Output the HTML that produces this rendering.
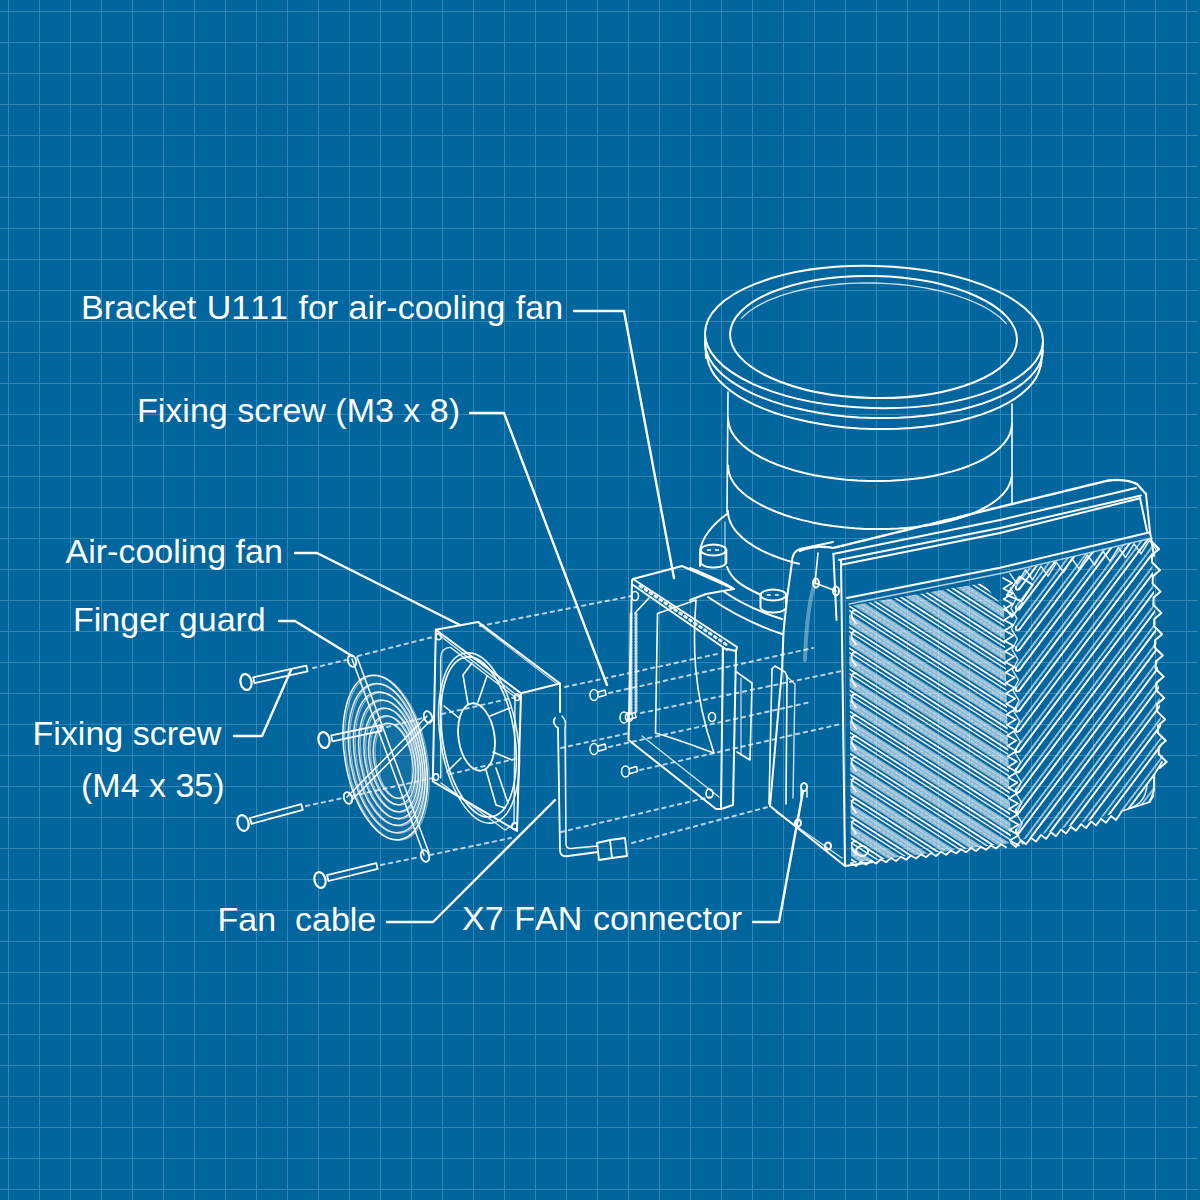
<!DOCTYPE html>
<html>
<head>
<meta charset="utf-8">
<style>
html,body{margin:0;padding:0;width:1200px;height:1200px;overflow:hidden;background:#01659e;}
#bg{position:absolute;left:0;top:0;width:1200px;height:1200px;background:#01659e;}
#gv{position:absolute;left:0;top:0;width:1200px;height:1200px;
background-image:linear-gradient(to right, #3186b3 0, #3186b3 1px, transparent 1px);
background-size:31px 31px;background-position:8px 0;}
#gh{position:absolute;left:0;top:0;width:1198px;height:1200px;
background-image:linear-gradient(to bottom, #3186b3 0, #3186b3 1px, transparent 1px);
background-size:31px 31px;background-position:0 11px;}
svg{position:absolute;left:0;top:0;}
.t{position:absolute;font-family:"Liberation Sans",sans-serif;font-size:34px;color:#fff;white-space:pre;line-height:34px;font-kerning:none;}
</style>
</head>
<body>
<div id="bg"></div><div id="gv"></div><div id="gh"></div>
<svg width="1200" height="1200" viewBox="0 0 1200 1200" fill="none" stroke="#fff" stroke-linecap="round" stroke-linejoin="round">
<!-- leaders -->
<g stroke-width="2.4">
<path d="M574 311 H624 L674 578"/>
<path d="M470 413 H504 L607 685"/>
<path d="M295 553 H317 L460 625"/>
<path d="M279 621 H295 L352 656"/>
<path d="M234 736 H262 L291 670"/>
<path d="M387 922 H433 L555 800"/>
<path d="M753 922 H779 L803 791"/>
</g>
<g id="drawing" stroke-width="2">
<g id="pump">
<ellipse cx="874" cy="337" rx="169" ry="71" transform="rotate(1.5 874 337)" />
<ellipse cx="873.5" cy="337" rx="143.5" ry="61" transform="rotate(1.2 873.5 337)" />
<path d="M741.4 318.4 L744.7 315.2 L748.4 312 L752.7 309 L757.3 306.1 L762.4 303.4 L767.9 300.7 L773.8 298.3 L780.1 295.9 L786.7 293.8 L793.6 291.8 L800.9 290 L808.4 288.4 L816.1 287 L824.1 285.8 L832.3 284.8 L840.6 284 L849 283.4 L857.5 283.1 L866.1 282.9 L874.7 283 L883.3 283.3 L891.9 283.8 L900.4 284.5 L908.8 285.4 L917 286.6 L925.2 287.9 L933.1 289.5 L940.8 291.2 L948.2 293.1 L955.4 295.2 L962.2 297.5 L968.7 299.9 L974.9 302.5 L980.7 305.2 L986.1 308 L991 311 L995.6 314.1 L999.7 317.3 L1003.3 320.6 L1006.4 323.9" stroke-width="1.3" opacity=".8"/>
<path d="M1042.9 350.4 L1042.3 356.1 L1040.6 361.6 L1037.8 367.1 L1034.1 372.4 L1029.4 377.6 L1023.7 382.6 L1017.1 387.4 L1009.6 391.9 L1001.2 396.1 L992.1 400 L982.3 403.6 L971.8 406.8 L960.7 409.7 L949 412.1 L936.9 414.2 L924.4 415.8 L911.6 417 L898.6 417.8 L885.4 418.1 L872.1 418 L858.9 417.4 L845.7 416.4 L832.7 415 L820 413.1 L807.6 410.8 L795.6 408.1 L784.1 405.1 L773.2 401.6 L762.8 397.9 L753.2 393.8 L744.3 389.4 L736.2 384.7 L729 379.8 L722.6 374.7 L717.2 369.5 L712.7 364 L709.3 358.5 L706.8 352.9 L705.4 347.2 L705.1 341.6" />
<path d="M1040.9 361.4 L1040.3 367 L1038.6 372.6 L1035.9 378.1 L1032.2 383.4 L1027.5 388.6 L1021.9 393.6 L1015.4 398.3 L1008 402.8 L999.7 407.1 L990.7 411 L981 414.6 L970.6 417.8 L959.6 420.7 L948.1 423.1 L936.1 425.2 L923.8 426.8 L911.1 428 L898.3 428.8 L885.2 429.1 L872.1 429 L859 428.4 L846 427.4 L833.2 426 L820.6 424.1 L808.4 421.8 L796.5 419.1 L785.2 416.1 L774.3 412.7 L764.1 408.9 L754.6 404.8 L745.8 400.4 L737.8 395.8 L730.7 390.9 L724.4 385.8 L719 380.5 L714.6 375.1 L711.2 369.6 L708.8 363.9 L707.4 358.3 L707.1 352.6" />
<path d="M705 336 L706 358" />
<path d="M1043 344 L1041 366" />
<path d="M728 392 L727 512" stroke-width="1.6"/>
<path d="M1012 404 L1012 503" stroke-width="1.6"/>
<path d="M1012 424.2 L1011.4 428.9 L1010 433.6 L1007.7 438.1 L1004.6 442.6 L1000.6 446.9 L995.9 451.1 L990.3 455.1 L984.1 458.9 L977.1 462.4 L969.4 465.7 L961.2 468.7 L952.3 471.4 L943 473.8 L933.2 475.9 L923.1 477.7 L912.6 479 L901.8 480.1 L890.9 480.8 L879.8 481.1 L868.6 481 L857.5 480.5 L846.4 479.7 L835.5 478.6 L824.8 477.1 L814.4 475.2 L804.3 473 L794.7 470.5 L785.5 467.6 L776.8 464.5 L768.7 461.1 L761.2 457.5 L754.3 453.7 L748.2 449.6 L742.9 445.4 L738.3 441 L734.6 436.5 L731.6 431.9 L729.6 427.2 L728.4 422.5 L728 417.8" />
<path d="M1011.8 476.5 L1010.8 481.1 L1009 485.5 L1006.4 489.9 L1002.9 494.2 L998.6 498.3 L993.6 502.2 L987.8 506 L981.3 509.5 L974.2 512.8 L966.4 515.8 L958 518.6 L949.1 521.1 L939.7 523.2 L929.9 525.1 L919.7 526.6 L909.2 527.7 L898.5 528.6 L887.7 529 L876.7 529.1 L865.7 528.9 L854.7 528.3 L843.8 527.3 L833 526 L822.5 524.4 L812.3 522.4 L802.4 520.1 L792.9 517.6 L783.9 514.7 L775.4 511.5 L767.5 508.2 L760.2 504.5 L753.5 500.7 L747.6 496.7 L742.4 492.5 L737.9 488.2 L734.3 483.8 L731.5 479.3 L729.5 474.7 L728.4 470.1 L728.1 465.5" />
<path d="M799 563.8 L795.8 563 L792.7 562.2 L789.6 561.3 L786.5 560.4 L783.6 559.4 L780.6 558.4 L777.8 557.4 L775 556.3 L772.3 555.2 L769.6 554.1 L767 553 L764.5 551.8 L762 550.6 L759.6 549.4 L757.3 548.1 L755.1 546.9 L753 545.6 L750.9 544.2 L748.9 542.9 L747 541.5 L745.2 540.1 L743.5 538.7 L741.8 537.3 L740.3 535.8 L738.8 534.3 L737.4 532.9 L736.1 531.4 L734.9 529.9 L733.8 528.3 L732.8 526.8 L731.9 525.2 L731.1 523.7 L730.4 522.1 L729.7 520.5 L729.2 519 L728.8 517.4 L728.4 515.8 L728.2 514.2 L728 512.6 L728 511" />
<path d="M727 514 C713 524 701 538 700 552 L700 566" />
<path d="M727 567 C732 580 742 586 759 594" />
<path d="M690 568 C705 574 725 583 734 589" />
<path d="M723 591 C740 603 760 612 782 619" />
<path d="M708 597 C730 612 755 625 782 634" />
<path d="M725 522 L725 564" stroke-width="1.3" opacity=".7"/>
<ellipse cx="713.5" cy="550" rx="12.8" ry="5.5" transform="rotate(0 713.5 550)" />
<path d="M700.7 550 L700.7 562 M726.3 562 L726.3 562.4 L726.1 562.9 L725.9 563.3 L725.7 563.7 L725.3 564.1 L724.9 564.5 L724.4 564.9 L723.9 565.2 L723.2 565.6 L722.6 565.9 L721.8 566.2 L721 566.4 L720.2 566.7 L719.3 566.9 L718.4 567.1 L717.5 567.2 L716.5 567.3 L715.5 567.4 L714.5 567.5 L713.5 567.5 L712.5 567.5 L711.5 567.4 L710.5 567.3 L709.5 567.2 L708.6 567.1 L707.7 566.9 L706.8 566.7 L706 566.4 L705.2 566.2 L704.4 565.9 L703.8 565.6 L703.1 565.2 L702.6 564.9 L702.1 564.5 L701.7 564.1 L701.3 563.7 L701.1 563.3 L700.9 562.9 L700.7 562.4 L700.7 562 M726.3 550 L726.3 562" />
<path d="M707.5 550 h3 M715.5 550 h3" stroke-width="1.4"/>
<ellipse cx="773.3" cy="595" rx="12.8" ry="5.5" transform="rotate(0 773.3 595)" />
<path d="M760.5 595 L760.5 607 M786.1 607 L786.1 607.4 L785.9 607.9 L785.7 608.3 L785.5 608.7 L785.1 609.1 L784.7 609.5 L784.2 609.9 L783.7 610.2 L783 610.6 L782.4 610.9 L781.6 611.2 L780.8 611.4 L780 611.7 L779.1 611.9 L778.2 612.1 L777.3 612.2 L776.3 612.3 L775.3 612.4 L774.3 612.5 L773.3 612.5 L772.3 612.5 L771.3 612.4 L770.3 612.3 L769.3 612.2 L768.4 612.1 L767.5 611.9 L766.6 611.7 L765.8 611.4 L765 611.2 L764.2 610.9 L763.6 610.6 L762.9 610.2 L762.4 609.9 L761.9 609.5 L761.5 609.1 L761.1 608.7 L760.9 608.3 L760.7 607.9 L760.5 607.4 L760.5 607 M786.1 595 L786.1 607" />
<path d="M767.3 595 h3 M775.3 595 h3" stroke-width="1.4"/>
</g>
<g id="housing">
<path d="M800 551 C812 546 822 546 833 548 L1000 507 L1106 481 C1118 479 1128 480 1137 484 L1146 494" stroke-dasharray="5 2" stroke-width="2.4"/>
<path d="M833 554 L1000 520 L1136 488" />
<path d="M839 560 L1000 528 L1141 495.5" />
<path d="M842.5 564.5 L1000 533 L1140 498.3" />
<path d="M1146 494 L1150 532 L1154 556" />
<path d="M1140 498 L1147 531" />
<path d="M833.5 555.5 L836.5 620" />
<path d="M841 560 L845 866" />
<path d="M847 598 L1000 567.7 L1150 532.3" />
<path d="M849 604 L1003 573 L1152 538" stroke-width="1.4" opacity=".7"/>
<path d="M833 542 L800 549 C794 551 792 556 792 562 L787 598 L783.5 632 L782 670 L770 806 L845 866" />
<path d="M818 553 L815 583 L836 591" stroke-width="1.6"/>
<path d="M816 580 C808 600 806 630 805 660" stroke-width="4" opacity=".35"/>
<ellipse cx="816" cy="583" rx="3" ry="4.5" transform="rotate(0 816 583)" />
<ellipse cx="836" cy="591" rx="3" ry="4.5" transform="rotate(0 836 591)" />
<path d="M772 669 L775 666 L785 672 L787 676 L786 804" stroke-width="1.6"/>
<path d="M772 669 L769 804" stroke-width="1.6"/>
<path d="M786 676 L795 684 L793 798" stroke-width="1.4" opacity=".8"/>
<ellipse cx="804" cy="787" rx="3" ry="4" transform="rotate(0 804 787)" />
<path d="M801 790 L801 797 M807 790 L807 797" stroke-width="1.4"/>
<path d="M776 812 L842 858" stroke-width="1.4" opacity=".8"/>
<ellipse cx="798" cy="823" rx="3" ry="3.5" transform="rotate(0 798 823)" />
<ellipse cx="828" cy="846" rx="3" ry="3.5" transform="rotate(0 828 846)" />
<path d="M845 866 L873 862" />
<ellipse cx="862" cy="851" rx="6" ry="5" transform="rotate(0 862 851)" />
</g>
<defs><clipPath id="cl"><path d="M849 606 L983 583 L1004 608 L1011 843 L851 863 Z"/></clipPath><clipPath id="cr"><path d="M1004 574 L1151 538 L1163 760 L1155 773 L1154 800 L1122 811 L1011 843 Z"/></clipPath></defs>
<g clip-path="url(#cl)">
<path d="M845 359.4 L1015 468.2 L1015 478.2 L845 369.4 Z" fill="#fff" fill-opacity=".55" stroke="none"/>
<path d="M845 362.4 L1015 471.2" stroke-width="1.6" opacity=".35" stroke-dasharray="3 2"/>
<path d="M845 366.4 L1015 475.2" stroke-width="1.6" opacity=".35" stroke-dasharray="2 3"/>
<path d="M845 351.4 L1015 460.2" stroke-width="1.8"/>
<path d="M845 355.9 L1015 464.7" stroke-width="1.5" opacity=".9"/>
<path d="M856 358.5 C850 357.6 850 364.6 856 371.5" stroke-width="1.8"/>
<path d="M845 380.4 L1015 489.2 L1015 499.2 L845 390.4 Z" fill="#fff" fill-opacity=".55" stroke="none"/>
<path d="M845 383.4 L1015 492.2" stroke-width="1.6" opacity=".35" stroke-dasharray="3 2"/>
<path d="M845 387.4 L1015 496.2" stroke-width="1.6" opacity=".35" stroke-dasharray="2 3"/>
<path d="M845 372.4 L1015 481.2" stroke-width="1.8"/>
<path d="M845 376.9 L1015 485.7" stroke-width="1.5" opacity=".9"/>
<path d="M856 379.5 C850 378.6 850 385.6 856 392.5" stroke-width="1.8"/>
<path d="M845 401.4 L1015 510.2 L1015 520.2 L845 411.4 Z" fill="#fff" fill-opacity=".55" stroke="none"/>
<path d="M845 404.4 L1015 513.2" stroke-width="1.6" opacity=".35" stroke-dasharray="3 2"/>
<path d="M845 408.4 L1015 517.2" stroke-width="1.6" opacity=".35" stroke-dasharray="2 3"/>
<path d="M845 393.4 L1015 502.2" stroke-width="1.8"/>
<path d="M845 397.9 L1015 506.7" stroke-width="1.5" opacity=".9"/>
<path d="M856 400.5 C850 399.6 850 406.6 856 413.5" stroke-width="1.8"/>
<path d="M845 422.4 L1015 531.2 L1015 541.2 L845 432.4 Z" fill="#fff" fill-opacity=".55" stroke="none"/>
<path d="M845 425.4 L1015 534.2" stroke-width="1.6" opacity=".35" stroke-dasharray="3 2"/>
<path d="M845 429.4 L1015 538.2" stroke-width="1.6" opacity=".35" stroke-dasharray="2 3"/>
<path d="M845 414.4 L1015 523.2" stroke-width="1.8"/>
<path d="M845 418.9 L1015 527.7" stroke-width="1.5" opacity=".9"/>
<path d="M856 421.5 C850 420.6 850 427.6 856 434.5" stroke-width="1.8"/>
<path d="M845 443.4 L1015 552.2 L1015 562.2 L845 453.4 Z" fill="#fff" fill-opacity=".55" stroke="none"/>
<path d="M845 446.4 L1015 555.2" stroke-width="1.6" opacity=".35" stroke-dasharray="3 2"/>
<path d="M845 450.4 L1015 559.2" stroke-width="1.6" opacity=".35" stroke-dasharray="2 3"/>
<path d="M845 435.4 L1015 544.2" stroke-width="1.8"/>
<path d="M845 439.9 L1015 548.7" stroke-width="1.5" opacity=".9"/>
<path d="M856 442.5 C850 441.6 850 448.6 856 455.5" stroke-width="1.8"/>
<path d="M845 464.4 L1015 573.2 L1015 583.2 L845 474.4 Z" fill="#fff" fill-opacity=".55" stroke="none"/>
<path d="M845 467.4 L1015 576.2" stroke-width="1.6" opacity=".35" stroke-dasharray="3 2"/>
<path d="M845 471.4 L1015 580.2" stroke-width="1.6" opacity=".35" stroke-dasharray="2 3"/>
<path d="M845 456.4 L1015 565.2" stroke-width="1.8"/>
<path d="M845 460.9 L1015 569.7" stroke-width="1.5" opacity=".9"/>
<path d="M856 463.5 C850 462.6 850 469.6 856 476.5" stroke-width="1.8"/>
<path d="M845 485.4 L1015 594.2 L1015 604.2 L845 495.4 Z" fill="#fff" fill-opacity=".55" stroke="none"/>
<path d="M845 488.4 L1015 597.2" stroke-width="1.6" opacity=".35" stroke-dasharray="3 2"/>
<path d="M845 492.4 L1015 601.2" stroke-width="1.6" opacity=".35" stroke-dasharray="2 3"/>
<path d="M845 477.4 L1015 586.2" stroke-width="1.8"/>
<path d="M845 481.9 L1015 590.7" stroke-width="1.5" opacity=".9"/>
<path d="M856 484.5 C850 483.6 850 490.6 856 497.5" stroke-width="1.8"/>
<path d="M845 506.4 L1015 615.2 L1015 625.2 L845 516.4 Z" fill="#fff" fill-opacity=".55" stroke="none"/>
<path d="M845 509.4 L1015 618.2" stroke-width="1.6" opacity=".35" stroke-dasharray="3 2"/>
<path d="M845 513.4 L1015 622.2" stroke-width="1.6" opacity=".35" stroke-dasharray="2 3"/>
<path d="M845 498.4 L1015 607.2" stroke-width="1.8"/>
<path d="M845 502.9 L1015 611.7" stroke-width="1.5" opacity=".9"/>
<path d="M856 505.5 C850 504.6 850 511.6 856 518.5" stroke-width="1.8"/>
<path d="M845 527.4 L1015 636.2 L1015 646.2 L845 537.4 Z" fill="#fff" fill-opacity=".55" stroke="none"/>
<path d="M845 530.4 L1015 639.2" stroke-width="1.6" opacity=".35" stroke-dasharray="3 2"/>
<path d="M845 534.4 L1015 643.2" stroke-width="1.6" opacity=".35" stroke-dasharray="2 3"/>
<path d="M845 519.4 L1015 628.2" stroke-width="1.8"/>
<path d="M845 523.9 L1015 632.7" stroke-width="1.5" opacity=".9"/>
<path d="M856 526.5 C850 525.6 850 532.6 856 539.5" stroke-width="1.8"/>
<path d="M845 548.4 L1015 657.2 L1015 667.2 L845 558.4 Z" fill="#fff" fill-opacity=".55" stroke="none"/>
<path d="M845 551.4 L1015 660.2" stroke-width="1.6" opacity=".35" stroke-dasharray="3 2"/>
<path d="M845 555.4 L1015 664.2" stroke-width="1.6" opacity=".35" stroke-dasharray="2 3"/>
<path d="M845 540.4 L1015 649.2" stroke-width="1.8"/>
<path d="M845 544.9 L1015 653.7" stroke-width="1.5" opacity=".9"/>
<path d="M856 547.5 C850 546.6 850 553.6 856 560.5" stroke-width="1.8"/>
<path d="M845 569.4 L1015 678.2 L1015 688.2 L845 579.4 Z" fill="#fff" fill-opacity=".55" stroke="none"/>
<path d="M845 572.4 L1015 681.2" stroke-width="1.6" opacity=".35" stroke-dasharray="3 2"/>
<path d="M845 576.4 L1015 685.2" stroke-width="1.6" opacity=".35" stroke-dasharray="2 3"/>
<path d="M845 561.4 L1015 670.2" stroke-width="1.8"/>
<path d="M845 565.9 L1015 674.7" stroke-width="1.5" opacity=".9"/>
<path d="M856 568.5 C850 567.6 850 574.6 856 581.5" stroke-width="1.8"/>
<path d="M845 590.4 L1015 699.2 L1015 709.2 L845 600.4 Z" fill="#fff" fill-opacity=".55" stroke="none"/>
<path d="M845 593.4 L1015 702.2" stroke-width="1.6" opacity=".35" stroke-dasharray="3 2"/>
<path d="M845 597.4 L1015 706.2" stroke-width="1.6" opacity=".35" stroke-dasharray="2 3"/>
<path d="M845 582.4 L1015 691.2" stroke-width="1.8"/>
<path d="M845 586.9 L1015 695.7" stroke-width="1.5" opacity=".9"/>
<path d="M856 589.5 C850 588.6 850 595.6 856 602.5" stroke-width="1.8"/>
<path d="M845 611.4 L1015 720.2 L1015 730.2 L845 621.4 Z" fill="#fff" fill-opacity=".55" stroke="none"/>
<path d="M845 614.4 L1015 723.2" stroke-width="1.6" opacity=".35" stroke-dasharray="3 2"/>
<path d="M845 618.4 L1015 727.2" stroke-width="1.6" opacity=".35" stroke-dasharray="2 3"/>
<path d="M845 603.4 L1015 712.2" stroke-width="1.8"/>
<path d="M845 607.9 L1015 716.7" stroke-width="1.5" opacity=".9"/>
<path d="M856 610.5 C850 609.6 850 616.6 856 623.5" stroke-width="1.8"/>
<path d="M845 632.4 L1015 741.2 L1015 751.2 L845 642.4 Z" fill="#fff" fill-opacity=".55" stroke="none"/>
<path d="M845 635.4 L1015 744.2" stroke-width="1.6" opacity=".35" stroke-dasharray="3 2"/>
<path d="M845 639.4 L1015 748.2" stroke-width="1.6" opacity=".35" stroke-dasharray="2 3"/>
<path d="M845 624.4 L1015 733.2" stroke-width="1.8"/>
<path d="M845 628.9 L1015 737.7" stroke-width="1.5" opacity=".9"/>
<path d="M856 631.5 C850 630.6 850 637.6 856 644.5" stroke-width="1.8"/>
<path d="M845 653.4 L1015 762.2 L1015 772.2 L845 663.4 Z" fill="#fff" fill-opacity=".55" stroke="none"/>
<path d="M845 656.4 L1015 765.2" stroke-width="1.6" opacity=".35" stroke-dasharray="3 2"/>
<path d="M845 660.4 L1015 769.2" stroke-width="1.6" opacity=".35" stroke-dasharray="2 3"/>
<path d="M845 645.4 L1015 754.2" stroke-width="1.8"/>
<path d="M845 649.9 L1015 758.7" stroke-width="1.5" opacity=".9"/>
<path d="M856 652.5 C850 651.6 850 658.6 856 665.5" stroke-width="1.8"/>
<path d="M845 674.4 L1015 783.2 L1015 793.2 L845 684.4 Z" fill="#fff" fill-opacity=".55" stroke="none"/>
<path d="M845 677.4 L1015 786.2" stroke-width="1.6" opacity=".35" stroke-dasharray="3 2"/>
<path d="M845 681.4 L1015 790.2" stroke-width="1.6" opacity=".35" stroke-dasharray="2 3"/>
<path d="M845 666.4 L1015 775.2" stroke-width="1.8"/>
<path d="M845 670.9 L1015 779.7" stroke-width="1.5" opacity=".9"/>
<path d="M856 673.5 C850 672.6 850 679.6 856 686.5" stroke-width="1.8"/>
<path d="M845 695.4 L1015 804.2 L1015 814.2 L845 705.4 Z" fill="#fff" fill-opacity=".55" stroke="none"/>
<path d="M845 698.4 L1015 807.2" stroke-width="1.6" opacity=".35" stroke-dasharray="3 2"/>
<path d="M845 702.4 L1015 811.2" stroke-width="1.6" opacity=".35" stroke-dasharray="2 3"/>
<path d="M845 687.4 L1015 796.2" stroke-width="1.8"/>
<path d="M845 691.9 L1015 800.7" stroke-width="1.5" opacity=".9"/>
<path d="M856 694.5 C850 693.6 850 700.6 856 707.5" stroke-width="1.8"/>
<path d="M845 716.4 L1015 825.2 L1015 835.2 L845 726.4 Z" fill="#fff" fill-opacity=".55" stroke="none"/>
<path d="M845 719.4 L1015 828.2" stroke-width="1.6" opacity=".35" stroke-dasharray="3 2"/>
<path d="M845 723.4 L1015 832.2" stroke-width="1.6" opacity=".35" stroke-dasharray="2 3"/>
<path d="M845 708.4 L1015 817.2" stroke-width="1.8"/>
<path d="M845 712.9 L1015 821.7" stroke-width="1.5" opacity=".9"/>
<path d="M856 715.5 C850 714.6 850 721.6 856 728.5" stroke-width="1.8"/>
<path d="M845 737.4 L1015 846.2 L1015 856.2 L845 747.4 Z" fill="#fff" fill-opacity=".55" stroke="none"/>
<path d="M845 740.4 L1015 849.2" stroke-width="1.6" opacity=".35" stroke-dasharray="3 2"/>
<path d="M845 744.4 L1015 853.2" stroke-width="1.6" opacity=".35" stroke-dasharray="2 3"/>
<path d="M845 729.4 L1015 838.2" stroke-width="1.8"/>
<path d="M845 733.9 L1015 842.7" stroke-width="1.5" opacity=".9"/>
<path d="M856 736.5 C850 735.6 850 742.6 856 749.5" stroke-width="1.8"/>
<path d="M845 758.4 L1015 867.2 L1015 877.2 L845 768.4 Z" fill="#fff" fill-opacity=".55" stroke="none"/>
<path d="M845 761.4 L1015 870.2" stroke-width="1.6" opacity=".35" stroke-dasharray="3 2"/>
<path d="M845 765.4 L1015 874.2" stroke-width="1.6" opacity=".35" stroke-dasharray="2 3"/>
<path d="M845 750.4 L1015 859.2" stroke-width="1.8"/>
<path d="M845 754.9 L1015 863.7" stroke-width="1.5" opacity=".9"/>
<path d="M856 757.5 C850 756.6 850 763.6 856 770.5" stroke-width="1.8"/>
<path d="M845 779.4 L1015 888.2 L1015 898.2 L845 789.4 Z" fill="#fff" fill-opacity=".55" stroke="none"/>
<path d="M845 782.4 L1015 891.2" stroke-width="1.6" opacity=".35" stroke-dasharray="3 2"/>
<path d="M845 786.4 L1015 895.2" stroke-width="1.6" opacity=".35" stroke-dasharray="2 3"/>
<path d="M845 771.4 L1015 880.2" stroke-width="1.8"/>
<path d="M845 775.9 L1015 884.7" stroke-width="1.5" opacity=".9"/>
<path d="M856 778.5 C850 777.6 850 784.6 856 791.5" stroke-width="1.8"/>
<path d="M845 800.4 L1015 909.2 L1015 919.2 L845 810.4 Z" fill="#fff" fill-opacity=".55" stroke="none"/>
<path d="M845 803.4 L1015 912.2" stroke-width="1.6" opacity=".35" stroke-dasharray="3 2"/>
<path d="M845 807.4 L1015 916.2" stroke-width="1.6" opacity=".35" stroke-dasharray="2 3"/>
<path d="M845 792.4 L1015 901.2" stroke-width="1.8"/>
<path d="M845 796.9 L1015 905.7" stroke-width="1.5" opacity=".9"/>
<path d="M856 799.5 C850 798.6 850 805.6 856 812.5" stroke-width="1.8"/>
<path d="M845 821.4 L1015 930.2 L1015 940.2 L845 831.4 Z" fill="#fff" fill-opacity=".55" stroke="none"/>
<path d="M845 824.4 L1015 933.2" stroke-width="1.6" opacity=".35" stroke-dasharray="3 2"/>
<path d="M845 828.4 L1015 937.2" stroke-width="1.6" opacity=".35" stroke-dasharray="2 3"/>
<path d="M845 813.4 L1015 922.2" stroke-width="1.8"/>
<path d="M845 817.9 L1015 926.7" stroke-width="1.5" opacity=".9"/>
<path d="M856 820.5 C850 819.6 850 826.6 856 833.5" stroke-width="1.8"/>
<path d="M845 842.4 L1015 951.2 L1015 961.2 L845 852.4 Z" fill="#fff" fill-opacity=".55" stroke="none"/>
<path d="M845 845.4 L1015 954.2" stroke-width="1.6" opacity=".35" stroke-dasharray="3 2"/>
<path d="M845 849.4 L1015 958.2" stroke-width="1.6" opacity=".35" stroke-dasharray="2 3"/>
<path d="M845 834.4 L1015 943.2" stroke-width="1.8"/>
<path d="M845 838.9 L1015 947.7" stroke-width="1.5" opacity=".9"/>
<path d="M856 841.5 C850 840.6 850 847.6 856 854.5" stroke-width="1.8"/>
<path d="M845 863.4 L1015 972.2 L1015 982.2 L845 873.4 Z" fill="#fff" fill-opacity=".55" stroke="none"/>
<path d="M845 866.4 L1015 975.2" stroke-width="1.6" opacity=".35" stroke-dasharray="3 2"/>
<path d="M845 870.4 L1015 979.2" stroke-width="1.6" opacity=".35" stroke-dasharray="2 3"/>
<path d="M845 855.4 L1015 964.2" stroke-width="1.8"/>
<path d="M845 859.9 L1015 968.7" stroke-width="1.5" opacity=".9"/>
<path d="M856 862.5 C850 861.6 850 868.6 856 875.5" stroke-width="1.8"/>
<path d="M845 884.4 L1015 993.2 L1015 1003.2 L845 894.4 Z" fill="#fff" fill-opacity=".55" stroke="none"/>
<path d="M845 887.4 L1015 996.2" stroke-width="1.6" opacity=".35" stroke-dasharray="3 2"/>
<path d="M845 891.4 L1015 1000.2" stroke-width="1.6" opacity=".35" stroke-dasharray="2 3"/>
<path d="M845 876.4 L1015 985.2" stroke-width="1.8"/>
<path d="M845 880.9 L1015 989.7" stroke-width="1.5" opacity=".9"/>
<path d="M856 883.5 C850 882.6 850 889.6 856 896.5" stroke-width="1.8"/>
<path d="M845 905.4 L1015 1014.2 L1015 1024.2 L845 915.4 Z" fill="#fff" fill-opacity=".55" stroke="none"/>
<path d="M845 908.4 L1015 1017.2" stroke-width="1.6" opacity=".35" stroke-dasharray="3 2"/>
<path d="M845 912.4 L1015 1021.2" stroke-width="1.6" opacity=".35" stroke-dasharray="2 3"/>
<path d="M845 897.4 L1015 1006.2" stroke-width="1.8"/>
<path d="M845 901.9 L1015 1010.7" stroke-width="1.5" opacity=".9"/>
<path d="M856 904.5 C850 903.6 850 910.6 856 917.5" stroke-width="1.8"/>
<path d="M845 926.4 L1015 1035.2 L1015 1045.2 L845 936.4 Z" fill="#fff" fill-opacity=".55" stroke="none"/>
<path d="M845 929.4 L1015 1038.2" stroke-width="1.6" opacity=".35" stroke-dasharray="3 2"/>
<path d="M845 933.4 L1015 1042.2" stroke-width="1.6" opacity=".35" stroke-dasharray="2 3"/>
<path d="M845 918.4 L1015 1027.2" stroke-width="1.8"/>
<path d="M845 922.9 L1015 1031.7" stroke-width="1.5" opacity=".9"/>
<path d="M856 925.5 C850 924.6 850 931.6 856 938.5" stroke-width="1.8"/>
</g>
<g clip-path="url(#cr)">
<path d="M1268 209.8 L1016 545.8" stroke-width="2" opacity=".6" stroke-dasharray="3 1.5"/>
<path d="M1019.4 548.3 L1271.4 212.3" stroke-width="2"/>
<path d="M1016 545.8 Q1015 550.8 1019.4 548.3" stroke-width="2"/>
<path d="M1268 230.1 L1016 566.1" stroke-width="2" opacity=".6" stroke-dasharray="3 1.5"/>
<path d="M1019.4 568.6 L1271.4 232.6" stroke-width="2"/>
<path d="M1016 566.1 Q1015 571.1 1019.4 568.6" stroke-width="2"/>
<path d="M1268 250.4 L1016 586.4" stroke-width="2" opacity=".6" stroke-dasharray="3 1.5"/>
<path d="M1019.4 588.9 L1271.4 252.9" stroke-width="2"/>
<path d="M1016 586.4 Q1015 591.4 1019.4 588.9" stroke-width="2"/>
<path d="M1268 270.7 L1016 606.7" stroke-width="2" opacity=".6" stroke-dasharray="3 1.5"/>
<path d="M1019.4 609.2 L1271.4 273.2" stroke-width="2"/>
<path d="M1016 606.7 Q1015 611.7 1019.4 609.2" stroke-width="2"/>
<path d="M1268 291 L1016 627" stroke-width="2" opacity=".6" stroke-dasharray="3 1.5"/>
<path d="M1019.4 629.5 L1271.4 293.5" stroke-width="2"/>
<path d="M1016 627 Q1015 632 1019.4 629.5" stroke-width="2"/>
<path d="M1268 311.3 L1016 647.3" stroke-width="2" opacity=".6" stroke-dasharray="3 1.5"/>
<path d="M1019.4 649.8 L1271.4 313.8" stroke-width="2"/>
<path d="M1016 647.3 Q1015 652.3 1019.4 649.8" stroke-width="2"/>
<path d="M1268 331.6 L1016 667.6" stroke-width="2" opacity=".6" stroke-dasharray="3 1.5"/>
<path d="M1019.4 670.1 L1271.4 334.1" stroke-width="2"/>
<path d="M1016 667.6 Q1015 672.6 1019.4 670.1" stroke-width="2"/>
<path d="M1268 351.9 L1016 687.9" stroke-width="2" opacity=".6" stroke-dasharray="3 1.5"/>
<path d="M1019.4 690.4 L1271.4 354.4" stroke-width="2"/>
<path d="M1016 687.9 Q1015 692.9 1019.4 690.4" stroke-width="2"/>
<path d="M1268 372.2 L1016 708.2" stroke-width="2" opacity=".6" stroke-dasharray="3 1.5"/>
<path d="M1019.4 710.7 L1271.4 374.7" stroke-width="2"/>
<path d="M1016 708.2 Q1015 713.2 1019.4 710.7" stroke-width="2"/>
<path d="M1268 392.5 L1016 728.5" stroke-width="2" opacity=".6" stroke-dasharray="3 1.5"/>
<path d="M1019.4 731 L1271.4 395" stroke-width="2"/>
<path d="M1016 728.5 Q1015 733.5 1019.4 731" stroke-width="2"/>
<path d="M1268 412.8 L1016 748.8" stroke-width="2" opacity=".6" stroke-dasharray="3 1.5"/>
<path d="M1019.4 751.3 L1271.4 415.3" stroke-width="2"/>
<path d="M1016 748.8 Q1015 753.8 1019.4 751.3" stroke-width="2"/>
<path d="M1268 433.1 L1016 769.1" stroke-width="2" opacity=".6" stroke-dasharray="3 1.5"/>
<path d="M1019.4 771.6 L1271.4 435.6" stroke-width="2"/>
<path d="M1016 769.1 Q1015 774.1 1019.4 771.6" stroke-width="2"/>
<path d="M1268 453.4 L1016 789.4" stroke-width="2" opacity=".6" stroke-dasharray="3 1.5"/>
<path d="M1019.4 791.9 L1271.4 455.9" stroke-width="2"/>
<path d="M1016 789.4 Q1015 794.4 1019.4 791.9" stroke-width="2"/>
<path d="M1268 473.7 L1016 809.7" stroke-width="2" opacity=".6" stroke-dasharray="3 1.5"/>
<path d="M1019.4 812.2 L1271.4 476.2" stroke-width="2"/>
<path d="M1016 809.7 Q1015 814.7 1019.4 812.2" stroke-width="2"/>
<path d="M1268 494 L1016 830" stroke-width="2" opacity=".6" stroke-dasharray="3 1.5"/>
<path d="M1019.4 832.5 L1271.4 496.5" stroke-width="2"/>
<path d="M1016 830 Q1015 835 1019.4 832.5" stroke-width="2"/>
<path d="M1268 514.3 L1016 850.3" stroke-width="2" opacity=".6" stroke-dasharray="3 1.5"/>
<path d="M1019.4 852.8 L1271.4 516.8" stroke-width="2"/>
<path d="M1016 850.3 Q1015 855.3 1019.4 852.8" stroke-width="2"/>
<path d="M1268 534.6 L1016 870.6" stroke-width="2" opacity=".6" stroke-dasharray="3 1.5"/>
<path d="M1019.4 873.1 L1271.4 537.1" stroke-width="2"/>
<path d="M1016 870.6 Q1015 875.6 1019.4 873.1" stroke-width="2"/>
<path d="M1268 554.9 L1016 890.9" stroke-width="2" opacity=".6" stroke-dasharray="3 1.5"/>
<path d="M1019.4 893.4 L1271.4 557.4" stroke-width="2"/>
<path d="M1016 890.9 Q1015 895.9 1019.4 893.4" stroke-width="2"/>
<path d="M1268 575.2 L1016 911.2" stroke-width="2" opacity=".6" stroke-dasharray="3 1.5"/>
<path d="M1019.4 913.7 L1271.4 577.7" stroke-width="2"/>
<path d="M1016 911.2 Q1015 916.2 1019.4 913.7" stroke-width="2"/>
<path d="M1268 595.5 L1016 931.5" stroke-width="2" opacity=".6" stroke-dasharray="3 1.5"/>
<path d="M1019.4 934 L1271.4 598" stroke-width="2"/>
<path d="M1016 931.5 Q1015 936.5 1019.4 934" stroke-width="2"/>
<path d="M1268 615.8 L1016 951.8" stroke-width="2" opacity=".6" stroke-dasharray="3 1.5"/>
<path d="M1019.4 954.3 L1271.4 618.3" stroke-width="2"/>
<path d="M1016 951.8 Q1015 956.8 1019.4 954.3" stroke-width="2"/>
<path d="M1268 636.1 L1016 972.1" stroke-width="2" opacity=".6" stroke-dasharray="3 1.5"/>
<path d="M1019.4 974.6 L1271.4 638.6" stroke-width="2"/>
<path d="M1016 972.1 Q1015 977.1 1019.4 974.6" stroke-width="2"/>
<path d="M1268 656.4 L1016 992.4" stroke-width="2" opacity=".6" stroke-dasharray="3 1.5"/>
<path d="M1019.4 994.9 L1271.4 658.9" stroke-width="2"/>
<path d="M1016 992.4 Q1015 997.4 1019.4 994.9" stroke-width="2"/>
<path d="M1268 676.7 L1016 1012.7" stroke-width="2" opacity=".6" stroke-dasharray="3 1.5"/>
<path d="M1019.4 1015.2 L1271.4 679.2" stroke-width="2"/>
<path d="M1016 1012.7 Q1015 1017.7 1019.4 1015.2" stroke-width="2"/>
<path d="M1268 697 L1016 1033" stroke-width="2" opacity=".6" stroke-dasharray="3 1.5"/>
<path d="M1019.4 1035.5 L1271.4 699.5" stroke-width="2"/>
<path d="M1016 1033 Q1015 1038 1019.4 1035.5" stroke-width="2"/>
<path d="M1268 717.3 L1016 1053.3" stroke-width="2" opacity=".6" stroke-dasharray="3 1.5"/>
<path d="M1019.4 1055.8 L1271.4 719.8" stroke-width="2"/>
<path d="M1016 1053.3 Q1015 1058.3 1019.4 1055.8" stroke-width="2"/>
</g>
<g clip-path="url(#cr)">
</g>
<path d="M1007 595 L1019.7 576.5 L1032.6 584.8 L1021.6 601.3 Z" stroke-width="2"/>
<path d="M1004 606 L1012 617 L1022 603" stroke-width="1.8"/>
<path d="M1151.1 541 L1159.1 549 L1152.1 555 L1151.9 562.3 L1159.9 570.3 L1152.9 576.3 L1152.6 583.6 L1160.6 591.6 L1153.6 597.6 L1153.3 604.9 L1161.3 612.9 L1154.3 618.9 L1154.1 626.2 L1162.1 634.2 L1155.1 640.2 L1154.8 647.5 L1162.8 655.5 L1155.8 661.5 L1155.6 668.8 L1163.6 676.8 L1156.6 682.8 L1156.3 690.1 L1164.3 698.1 L1157.3 704.1 L1157.1 711.4 L1165.1 719.4 L1158.1 725.4 L1157.8 732.7 L1165.8 740.7 L1158.8 746.7 L1158.6 754 L1166.6 762 L1159.6 768" stroke-width="2"/>
<path d="M851 863 L856 866 L861 861.8 L866 864.8 L871 860.5 L876 863.5 L881 859.2 L886 862.2 L891 858 L896 861 L901 856.8 L906 859.8 L911 855.5 L916 858.5 L921 854.2 L926 857.2 L931 853 L936 856 L941 851.8 L946 854.8 L951 850.5 L956 853.5 L961 849.2 L966 852.2 L971 848 L976 851 L981 846.8 L986 849.8 L991 845.5 L996 848.5 L1001 844.2 L1006 847.2" stroke-width="1.8"/>
<path d="M1011 843 L1016 847 L1021 840.3 L1026 844.3 L1031 837.6 L1036 841.6 L1041 834.9 L1046 838.9 L1051 832.2 L1056 836.2 L1061 829.5 L1066 833.5 L1071 826.8 L1076 830.8 L1081 824.1 L1086 828.1 L1091 821.4 L1096 825.4 L1101 818.7 L1106 822.7 L1111 816 L1116 820 L1122 811 L1150 802 L1154 790 L1154 775 L1162 762" stroke-width="1.8"/>
<path d="M1130 808 C1140 805 1146 798 1147 785" stroke-width="1.6" opacity=".85"/>
<path d="M1003.1 578 L1012.1 583 L1003.4 588.5 L1012.4 593.5 L1003.6 599 L1012.6 604 L1003.9 609.5 L1012.9 614.5 L1004.2 620 L1013.2 625 L1004.5 630.5 L1013.5 635.5 L1004.7 641 L1013.7 646 L1005 651.5 L1014 656.5 L1005.3 662 L1014.3 667 L1005.6 672.5 L1014.6 677.5 L1005.8 683 L1014.8 688 L1006.1 693.5 L1015.1 698.5 L1006.4 704 L1015.4 709 L1006.7 714.5 L1015.7 719.5 L1006.9 725 L1015.9 730 L1007.2 735.5 L1016.2 740.5 L1007.5 746 L1016.5 751 L1007.7 756.5 L1016.7 761.5 L1008 767 L1017 772 L1008.3 777.5 L1017.3 782.5 L1008.6 788 L1017.6 793 L1008.8 798.5 L1017.8 803.5 L1009.1 809 L1018.1 814 L1009.4 819.5 L1018.4 824.5 L1009.7 830 L1018.7 835 L1009.9 840.5 L1018.9 845.5" stroke-width="1.8"/>
<path d="M1010.4 588 L1016.4 598 L1010.9 608.5 L1016.9 618.5 L1011.4 629 L1017.4 639 L1012 649.5 L1018 659.5 L1012.5 670 L1018.5 680 L1013 690.5 L1019 700.5 L1013.6 711 L1019.6 721 L1014.1 731.5 L1020.1 741.5 L1014.6 752 L1020.6 762 L1015.2 772.5 L1021.2 782.5 L1015.7 793 L1021.7 803 L1016.2 813.5 L1022.2 823.5 L1016.8 834 L1022.8 844" stroke-width="1.5" opacity=".8"/>
<path d="M1010 573.6 L1017 583.6 L1025.5 569.8 L1032.5 579.8 L1041 566.1 L1048 576.1 L1056.5 562.4 L1063.5 572.4 L1072 558.7 L1079 568.7 L1087.5 555 L1094.5 565 L1103 551.2 L1110 561.2 L1118.5 547.5 L1125.5 557.5 L1134 543.8 L1141 553.8 L1149.5 540.1 L1156.5 550.1" stroke-width="1.6" opacity=".85"/>
<g id="bracket">
<path d="M633 579 L682 566 L734 589 L706 594 L690 600" />
<path d="M633 579 L737 647 L736 651" />
<path d="M633 585 L727 650" />
<path d="M640 586 L727 645" stroke-width="3" stroke-dasharray="2 4" opacity=".9"/>
<path d="M723 647 L721 809 L733 805 L736 651 L727 649" />
<path d="M632 580 L628.5 740 L716 809 L721 809" />
<path d="M642 736 L719 797" stroke-width="1.4" opacity=".8"/>
<path d="M657.5 613.5 L655.5 733 M657.5 613.5 L696 600 M655.5 733 C680 740 700 748 714 753 M696 600 C693 640 692 690 714 753" stroke-width="1.6"/>
<path d="M736.5 672 L752 683 L750 760 L737 752" stroke-width="1.6"/>
<path d="M741 678 L741 755" stroke-width="1.2" opacity=".8"/>
<path d="M631 614 L631 712 M636 614 L636 712" stroke-width="3" stroke-dasharray="1.5 1.5" opacity=".8"/>
<path d="M635 613 L649 598" stroke-width="1.6"/>
<ellipse cx="635" cy="596" rx="3.5" ry="4.5" transform="rotate(0 635 596)" stroke-width="1.6"/>
<ellipse cx="629" cy="717" rx="3.5" ry="4.5" transform="rotate(0 629 717)" stroke-width="1.6"/>
<ellipse cx="712" cy="717" rx="3.5" ry="4.5" transform="rotate(0 712 717)" stroke-width="1.6"/>
<ellipse cx="709.5" cy="793.5" rx="3.5" ry="4.5" transform="rotate(0 709.5 793.5)" stroke-width="1.6"/>
</g>
<g id="fan">
<path d="M435.8 629.7 L521 693.3 L517 831 L432.8 781.4 Z" stroke-width="2"/>
<path d="M435.8 629.7 L477.9 621.9 L560 683.5 L521 693.3" />
<path d="M438 634 L519 697" stroke-width="1.5" opacity=".85"/>
<path d="M480 625 L557 684" stroke-width="1.3" opacity=".7"/>
<path d="M560 683.5 L560 712" />
<path d="M440.7 778 L440.7 658 Q441 648 450.5 647.3 L515 697 L514 824 L505 830 L441 783" stroke-width="1.5" opacity=".85"/>
<ellipse cx="479" cy="738" rx="38.5" ry="86" transform="rotate(-9.1 479 738)" stroke-width="1.6" opacity=".9"/>
<ellipse cx="478.5" cy="737" rx="36" ry="80.9" transform="rotate(-9.1 478.5 737)" stroke-width="1.6"/>
<ellipse cx="476.5" cy="737" rx="18" ry="34" transform="rotate(-8 476.5 737)" stroke-width="1.8"/>
<path d="M468 704 L463 675 L472 663 M478 702 L487 676 M486 770 L496 805 L505 808 M496 768 L508 803 M459 718 L444 706 M493 752 L512 760 M461 758 L447 772 M490 716 L510 708" stroke-width="1.6"/>
<ellipse cx="438.7" cy="636.5" rx="2.6" ry="3.3" transform="rotate(0 438.7 636.5)" stroke-width="1.5"/>
<ellipse cx="517" cy="697.2" rx="2.6" ry="3.3" transform="rotate(0 517 697.2)" stroke-width="1.5"/>
<ellipse cx="514.5" cy="826" rx="2.6" ry="3.3" transform="rotate(0 514.5 826)" stroke-width="1.5"/>
<ellipse cx="436" cy="777" rx="2.6" ry="3.3" transform="rotate(0 436 777)" stroke-width="1.5"/>
</g>
<g id="guard" stroke-width="1.5">
<ellipse cx="386" cy="758" rx="40" ry="83" transform="rotate(-10.6 386 758)" fill="#fff" fill-opacity=".07" stroke="none"/>
<ellipse cx="385.2" cy="757.5" rx="40" ry="83.4" transform="rotate(-10.6 385.2 757.5)" opacity="1.00"/>
<ellipse cx="387" cy="758" rx="40" ry="83.4" transform="rotate(-10.6 387 758)" opacity=".5" stroke-width="1.2"/>
<ellipse cx="386.7" cy="758.1" rx="36.5" ry="75.5" transform="rotate(-10.6 386.7 758.1)" opacity="0.85"/>
<ellipse cx="388.5" cy="758.6" rx="36.5" ry="75.5" transform="rotate(-10.6 388.5 758.6)" opacity=".5" stroke-width="1.2"/>
<ellipse cx="388.2" cy="758.7" rx="33" ry="67.5" transform="rotate(-10.6 388.2 758.7)" opacity="0.85"/>
<ellipse cx="390" cy="759.2" rx="33" ry="67.5" transform="rotate(-10.6 390 759.2)" opacity=".5" stroke-width="1.2"/>
<ellipse cx="389.7" cy="759.3" rx="29.5" ry="60" transform="rotate(-10.6 389.7 759.3)" opacity="0.85"/>
<ellipse cx="391.5" cy="759.8" rx="29.5" ry="60" transform="rotate(-10.6 391.5 759.8)" opacity=".5" stroke-width="1.2"/>
<ellipse cx="391.2" cy="759.9" rx="26" ry="52.5" transform="rotate(-10.6 391.2 759.9)" opacity="0.85"/>
<ellipse cx="393" cy="760.4" rx="26" ry="52.5" transform="rotate(-10.6 393 760.4)" opacity=".5" stroke-width="1.2"/>
<ellipse cx="392.2" cy="760.3" rx="22.5" ry="45" transform="rotate(-10.6 392.2 760.3)" opacity="0.85"/>
<ellipse cx="394" cy="760.8" rx="22.5" ry="45" transform="rotate(-10.6 394 760.8)" opacity=".5" stroke-width="1.2"/>
<ellipse cx="393.2" cy="760.7" rx="19" ry="38" transform="rotate(-10.6 393.2 760.7)" opacity="0.85"/>
<ellipse cx="395" cy="761.2" rx="19" ry="38" transform="rotate(-10.6 395 761.2)" opacity=".5" stroke-width="1.2"/>
<path d="M352 659 L424 855 M357 657 L429 853" />
<path d="M427 716 L347 797 M431 720 L351 801" />
<ellipse cx="352" cy="661" rx="4" ry="6" transform="rotate(-20 352 661)" stroke-width="1.8"/>
<ellipse cx="428" cy="717" rx="4" ry="6" transform="rotate(-20 428 717)" stroke-width="1.8"/>
<ellipse cx="348" cy="798" rx="4" ry="6" transform="rotate(-20 348 798)" stroke-width="1.8"/>
<ellipse cx="425" cy="856" rx="4" ry="6" transform="rotate(-20 425 856)" stroke-width="1.8"/>
</g>
<g id="screws">
<ellipse cx="246" cy="682" rx="5.5" ry="8" transform="rotate(-12.5 246 682)" stroke-width="2.2"/><path d="M254.5 683.2 L307.6 671.4 L306.4 665.6 L253.2 677.3 Z" stroke-width="1.8"/>
<ellipse cx="324" cy="740" rx="5.5" ry="8" transform="rotate(-11.9 324 740)" stroke-width="2.2"/><path d="M332.4 741.3 L381.6 730.9 L380.4 725.1 L331.2 735.4 Z" stroke-width="1.8"/>
<ellipse cx="243" cy="823" rx="5.5" ry="8" transform="rotate(-15.2 243 823)" stroke-width="2.2"/><path d="M251.5 823.8 L302.8 809.9 L301.2 804.1 L249.9 818 Z" stroke-width="1.8"/>
<ellipse cx="320" cy="880" rx="5.5" ry="8" transform="rotate(-13.8 320 880)" stroke-width="2.2"/><path d="M328.5 881 L377.7 868.9 L376.3 863.1 L327.1 875.2 Z" stroke-width="1.8"/>
</g>
<g id="sscrews" stroke-width="1.6">
<ellipse cx="594" cy="695" rx="4" ry="5.5" transform="rotate(0 594 695)" />
<path d="M598 692 L605 690 L606 695 L599 697" />
<ellipse cx="624" cy="717.5" rx="4" ry="5.5" transform="rotate(0 624 717.5)" />
<path d="M628 714.5 L635 712.5 L636 717.5 L629 719.5" />
<ellipse cx="594" cy="749" rx="4" ry="5.5" transform="rotate(0 594 749)" />
<path d="M598 746 L605 744 L606 749 L599 751" />
<ellipse cx="625.5" cy="771.5" rx="4" ry="5.5" transform="rotate(0 625.5 771.5)" />
<path d="M629.5 768.5 L636.5 766.5 L637.5 771.5 L630.5 773.5" />
</g>
<g id="dashes" stroke-width="2" stroke-dasharray="3.5 4.5" opacity=".72">
<path d="M313 668 L346 660" />
<path d="M358 656 L433 637" />
<path d="M480 626 L632 596" />
<path d="M387 727 L423 718" />
<path d="M442 714 L517 697" />
<path d="M565 687 L717 654" />
<path d="M306 806 L343 798" />
<path d="M352 796 L433 778" />
<path d="M450 774 L515 759" />
<path d="M561 748 L629 733" />
<path d="M381 865 L420 857" />
<path d="M430 855 L511 838" />
<path d="M561 832 L710 797" />
<path d="M632 843 L768 807" />
<path d="M609 693 L813 648" />
<path d="M641 713 L842 671" />
<path d="M609 747 L811 702" />
<path d="M640 770 L841 724" />
</g>
<g id="cable" stroke-width="1.8">
<path d="M555 718 C552 722 555 726 558 728 L560 850 C560 855 563 857 568 856 L598 852" />
<path d="M562 716 C566 720 566 724 565 728 L566 845 C567 849 570 849 575 848 L598 846" stroke-width="1.4"/>
<path d="M597 843 L610 840 L612 858 L599 860 Z" />
<path d="M610 840 L625 838 L627 856 L612 858" />
</g>
</g>
</svg>
<div class="t" style="left:81px;top:290px;word-spacing:1px">Bracket U111 for air-cooling fan</div>
<div class="t" style="left:137px;top:393px">Fixing screw (M3 x 8)</div>
<div class="t" style="left:65.5px;top:534px">Air-cooling fan</div>
<div class="t" style="left:73px;top:602px">Finger guard</div>
<div class="t" style="left:32.5px;top:716px">Fixing screw</div>
<div class="t" style="left:81px;top:768px">(M4 x 35)</div>
<div class="t" style="left:217.5px;top:902px">Fan  cable</div>
<div class="t" style="left:462px;top:901px;word-spacing:1.2px">X7 FAN connector</div>
</body>
</html>
